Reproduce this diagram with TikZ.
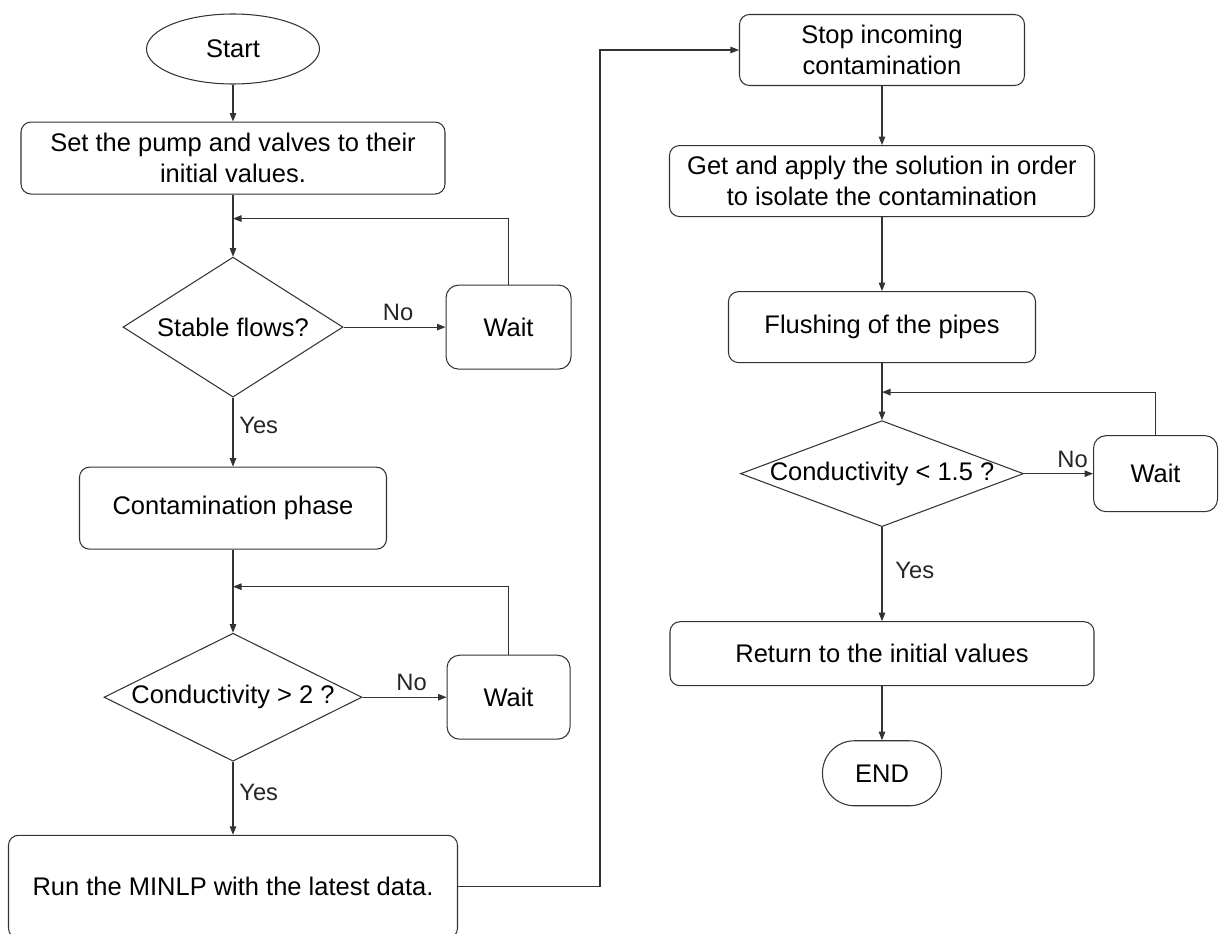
\documentclass[tikz,border=0pt]{standalone}
\usepackage{fontspec}
\setmainfont{Liberation Sans}
\usepackage{tikz}
\usetikzlibrary{positioning, shapes.geometric, arrows.meta}

\begin{document}
\begin{tikzpicture}[
    font=\fontsize{14.5}{17.5}\selectfont,
    line width=0.6pt,
    arr/.style={draw=black!80, -{Triangle[length=1.7mm, width=1.3mm]}},
    startstop/.style={ellipse, draw=black!80, inner sep=0pt},
    process/.style={rectangle, rounded corners=0.2cm, draw=black!80, align=center, inner sep=2pt},
    decision/.style={diamond, draw=black!80, inner sep=0pt},
    lbl/.style={font=\fontsize{13.5}{16}\selectfont, text=black!85}
  ]
\useasboundingbox (0,0) rectangle (24.38,-18.68);

% Nodes (left column)
\node (start) [startstop, minimum width=3.46cm, minimum height=1.4cm] at (4.66,-0.98) {Start};
\node (init) [process, minimum width=8.48cm, minimum height=1.44cm, below=0.74cm of start] {Set the pump and valves to their\\ initial values.};
\node (stable) [decision, aspect=1.57, minimum width=4.4cm, minimum height=2.8cm, below=1.24cm of init] {Stable flows?};
\node (waitA) [process, rounded corners=0.25cm, minimum width=2.5cm, minimum height=1.68cm, right=2.04cm of stable] {Wait};
\node (phase) [process, minimum width=6.14cm, minimum height=1.64cm, below=1.38cm of stable] {Contamination phase};
\node (condA) [decision, aspect=2.02, minimum width=5.16cm, minimum height=2.56cm, below=1.66cm of phase] {Conductivity > 2 ?};
\node (waitB) [process, rounded corners=0.25cm, minimum width=2.46cm, minimum height=1.68cm, right=1.68cm of condA] {Wait};
\node (minlp) [process, minimum width=8.98cm, minimum height=2.06cm, below=1.46cm of condA] {Run the MINLP with the latest data.};

% Nodes (right column)
\node (stop) [process, minimum width=5.7cm, minimum height=1.42cm] at (17.64,-1.0) {Stop incoming\\ contamination};
\node (solve) [process, minimum width=8.5cm, minimum height=1.42cm, below=1.18cm of stop] {Get and apply the solution in order\\ to isolate the contamination};
\node (flush) [process, minimum width=6.14cm, minimum height=1.42cm, below=1.48cm of solve] {Flushing of the pipes};
\node (condB) [decision, aspect=2.67, inner xsep=-8pt, minimum width=5.66cm, minimum height=2.12cm, below=1.14cm of flush] {Conductivity < 1.5 ?};
\node (waitC) [process, rounded corners=0.25cm, minimum width=2.48cm, minimum height=1.52cm, right=1.38cm of condB] {Wait};
\node (reset) [process, minimum width=8.48cm, minimum height=1.28cm, below=1.88cm of condB] {Return to the initial values};
\node (end) [rectangle, rounded corners=0.64cm, draw=black!80, minimum width=2.38cm, minimum height=1.3cm, below=1.08cm of reset] {END};

% Merge points
\path (init.south) ++(0,-0.48) coordinate (mA);
\path (phase.south) ++(0,-0.74) coordinate (mB);
\path (flush.south) ++(0,-0.58) coordinate (mC);
\coordinate (turn) at (12.0,0);

% Arrows
\draw[arr] (start) -- (init);
\draw[arr] (init) -- (stable);
\draw[arr] (stable) -- node[lbl, above, xshift=2pt] {No} (waitA);
\draw[arr] (waitA.north) |- (mA);
\draw[arr] (stable) -- node[lbl, pos=0.4, right] {Yes} (phase);
\draw[arr] (phase) -- (condA);
\draw[arr] (condA) -- node[lbl, above, xshift=4pt] {No} (waitB);
\draw[arr] (waitB.north) |- (mB);
\draw[arr] (condA) -- node[lbl, pos=0.42, right] {Yes} (minlp);
\draw[arr] (minlp.east) -- (minlp.east -| turn) |- (stop.west);
\draw[arr] (stop) -- (solve);
\draw[arr] (solve) -- (flush);
\draw[arr] (flush) -- (condB);
\draw[arr] (condB) -- node[lbl, above, xshift=8pt] {No} (waitC);
\draw[arr] (waitC.north) |- (mC);
\draw[arr] (condB) -- node[lbl, pos=0.46, right, xshift=4pt] {Yes} (reset);
\draw[arr] (reset) -- (end);

\end{tikzpicture}
\end{document}
